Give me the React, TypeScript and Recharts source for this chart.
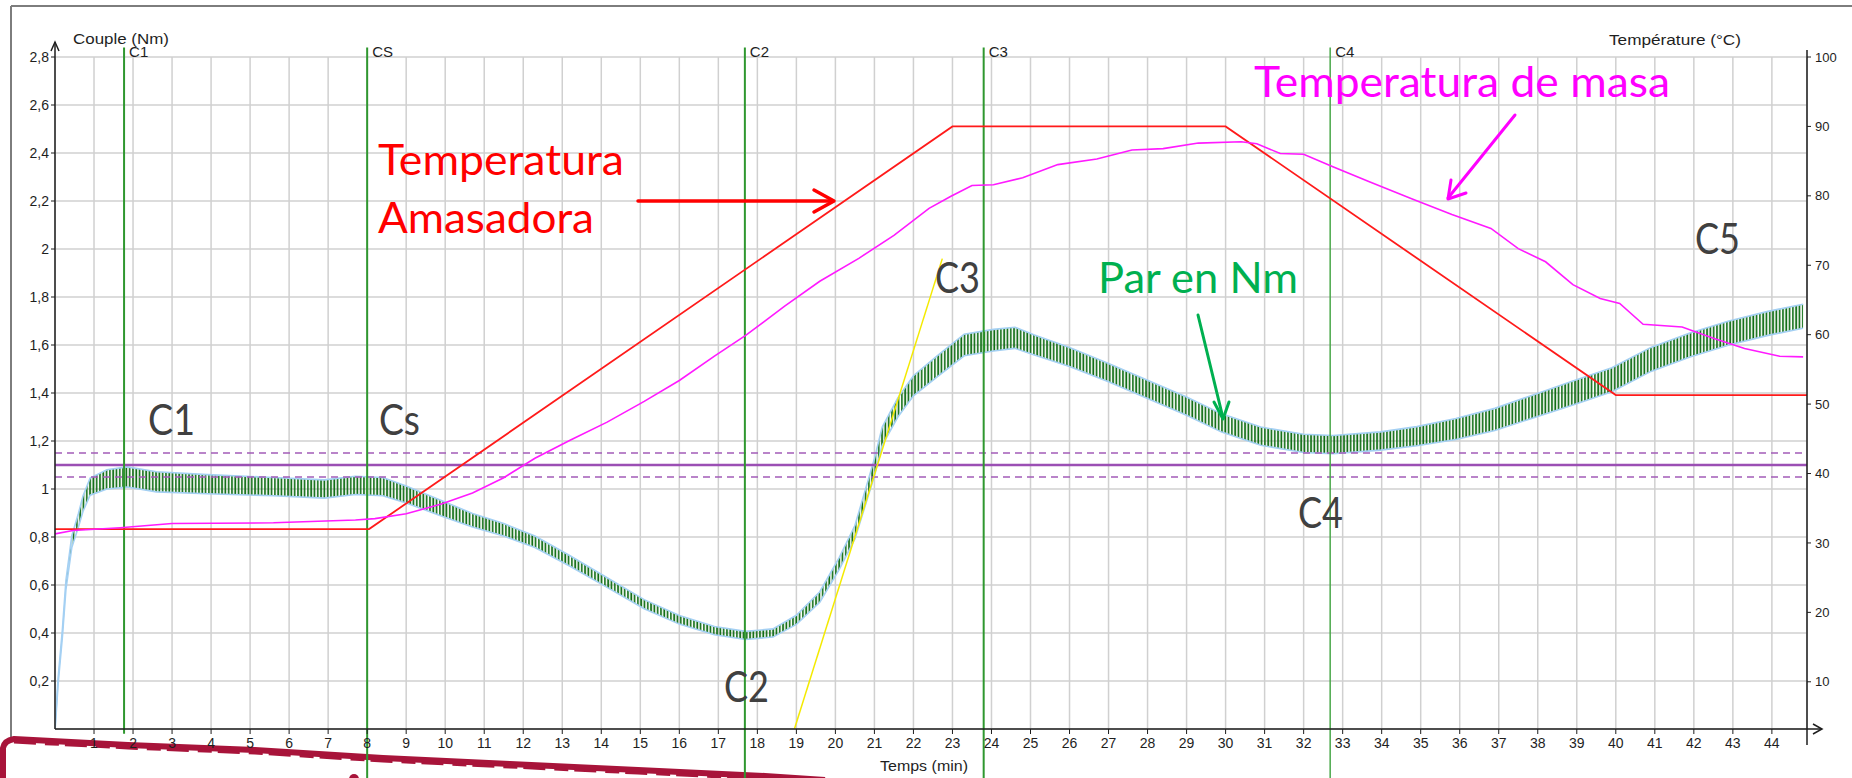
import React from "react";
import {
  ComposedChart,
  Line,
  Area,
  XAxis,
  YAxis,
  CartesianGrid,
  ReferenceLine,
} from "recharts";

// --- torque (Nm), left axis ---
const torqueTime = [
  0, 0.08, 0.19, 0.28, 0.43, 0.6, 0.72, 0.9, 1.33, 1.85, 2.6, 3.9, 5.6, 6.9, 7.7,
  8.4, 9.0, 9.9, 10.7, 11.5, 12.3, 13.2, 14.15, 15.1, 16.0, 16.9, 17.7, 18.4,
  19.0, 19.6, 20.1, 20.5, 20.75, 21.0, 21.2, 21.6, 22.0, 22.6, 23.3, 24.05, 24.6,
  25.1, 26.0, 27.0, 28.0, 29.0, 29.9, 30.9, 32.0, 32.75, 33.97, 34.9, 35.9, 36.9,
  37.9, 38.9, 39.9, 40.9, 41.9, 42.9, 43.9, 44.8,
];
const torqueMean = [
  0, 0.2, 0.4, 0.6, 0.78, 0.87, 0.94, 1.01, 1.04, 1.05, 1.03, 1.02, 1.01, 1.0, 1.015,
  1.01, 0.977, 0.92, 0.87, 0.83, 0.78, 0.7, 0.61, 0.52, 0.455, 0.41, 0.39, 0.4,
  0.455, 0.55, 0.69, 0.82, 0.955, 1.09, 1.22, 1.34, 1.43, 1.51, 1.6, 1.62, 1.63,
  1.6, 1.55, 1.485, 1.415, 1.345, 1.275, 1.22, 1.19, 1.185, 1.2, 1.22, 1.25, 1.29,
  1.345, 1.4, 1.455, 1.54, 1.6, 1.65, 1.69, 1.72,
];
// half height of the oscillation band around the mean
const torqueSpread = [
  0.01, 0.012, 0.015, 0.018, 0.024, 0.028, 0.032, 0.036, 0.04, 0.042, 0.042, 0.04,
  0.038, 0.038, 0.038, 0.038, 0.035, 0.032, 0.028, 0.026, 0.024, 0.022, 0.02, 0.019,
  0.018, 0.017, 0.017, 0.017, 0.019, 0.022, 0.025, 0.028, 0.032, 0.036, 0.038, 0.04,
  0.042, 0.044, 0.045, 0.045, 0.044, 0.042, 0.04, 0.038, 0.038, 0.038, 0.038, 0.038,
  0.038, 0.038, 0.038, 0.04, 0.044, 0.046, 0.048, 0.05, 0.05, 0.05, 0.05, 0.05, 0.05,
  0.05,
];

// --- kneader temperature (°C), right axis ---
const kneaderTime = [0, 8.05, 23.0, 30.0, 40.0, 44.9];
const kneaderTemp = [32, 32, 90, 90, 51.3, 51.3];

// --- dough temperature (°C), right axis ---
const doughTime = [
  0, 0.46, 1.67, 3.0, 5.6, 7.7, 8.2, 9.0, 9.9, 10.7, 11.5, 12.3, 13.2, 14.15, 15.1,
  16.0, 16.9, 17.7, 18.7, 19.6, 20.6, 21.5, 22.4, 22.95, 23.5, 24.05, 24.8, 25.7,
  26.7, 27.6, 28.4, 29.3, 30.4, 30.8, 31.4, 32.0, 32.75, 33.7, 34.8, 35.8, 36.8,
  37.5, 38.2, 38.9, 39.6, 40.1, 40.7, 41.7, 42.5, 43.3, 44.2, 44.8,
];
const doughTemp = [
  31.3, 31.8, 32.2, 32.8, 32.9, 33.3, 33.5, 34.2, 35.6, 37.2, 39.4, 42.2, 44.8, 47.4,
  50.4, 53.4, 56.9, 59.9, 64.1, 67.7, 71.0, 74.3, 78.2, 79.9, 81.5, 81.6, 82.6,
  84.5, 85.3, 86.6, 86.8, 87.6, 87.8, 87.5, 86.1, 86.0, 84.2, 82.0, 79.5, 77.3,
  75.3, 72.4, 70.5, 67.2, 65.2, 64.5, 61.5, 61.1, 59.5, 58.0, 56.9, 56.8,
];

// tangent drawn on the rise towards C3
const tangentTime = [18.95, 22.74];
const tangentTorque = [0, 1.96];

// markers
const markerNames = ["C1", "CS", "C2", "C3", "C4"];
const markerTime = [1.77, 8.0, 17.68, 23.8, 32.68];

// target band (Nm)
const targetLevel = 1.1;
const targetLimits = [1.05, 1.15];

const xTicks = [
  1, 2, 3, 4, 5, 6, 7, 8, 9, 10, 11, 12, 13, 14, 15, 16, 17, 18, 19, 20, 21, 22,
  23, 24, 25, 26, 27, 28, 29, 30, 31, 32, 33, 34, 35, 36, 37, 38, 39, 40, 41, 42,
  43, 44,
];
const leftTicks = [0.2, 0.4, 0.6, 0.8, 1, 1.2, 1.4, 1.6, 1.8, 2, 2.2, 2.4, 2.6, 2.8];
const rightTicks = [10, 20, 30, 40, 50, 60, 70, 80, 90, 100];

const torqueRows = torqueTime.map((t, i) => ({
  t,
  band: [torqueMean[i] - torqueSpread[i], torqueMean[i] + torqueSpread[i]],
}));
const kneaderRows = kneaderTime.map((t, i) => ({ t, temp: kneaderTemp[i] }));
const doughRows = doughTime.map((t, i) => ({ t, temp: doughTemp[i] }));
const tangentRows = tangentTime.map((t, i) => ({ t, torque: tangentTorque[i] }));

// layout
const W = 1852;
const H = 778;
const PLOT_LEFT = 55;
const PLOT_RIGHT = 1807;
const PLOT_TOP = 57;
const PLOT_BOTTOM = 729;
const T_MAX = 44.9;
const px = (t: number) => PLOT_LEFT + (t / T_MAX) * (PLOT_RIGHT - PLOT_LEFT);

const axisFont = "'Liberation Sans', Arial, sans-serif";
const noteFont = "Lato, 'Open Sans', sans-serif";
const axisColor = "#1e1e1e";
const paperRed = "#a8143a";

const notes = [
  { text: "C1", x: 148, y: 435, w: 47 },
  { text: "Cs", x: 379, y: 435, w: 41 },
  { text: "C2", x: 724, y: 702, w: 45 },
  { text: "C3", x: 935, y: 293, w: 45 },
  { text: "C4", x: 1298, y: 528, w: 45 },
  { text: "C5", x: 1695, y: 254, w: 45 },
];

export default function App() {
  return (
    <div style={{ position: "absolute", left: 0, top: 0, width: W, height: H, background: "#fff" }}>
      {/* paper frame and torn edge */}
      <svg width={W} height={H} style={{ position: "absolute", left: 0, top: 0 }}>
        <line x1={11} y1={6} x2={W} y2={6} stroke="#7d7d7d" strokeWidth={2} />
        <line x1={11} y1={6} x2={11} y2={740} stroke="#7d7d7d" strokeWidth={2} />
        <path
          d="M3,778 L3,748 C4,742 8,740 14,739 L128,745 L255,750 L383,758 L510,764 L638,770 L765,776 L825,780"
          stroke={paperRed}
          strokeWidth={6}
          fill="none"
          strokeLinejoin="round"
        />
        <path
          d="M14,742 L128,748 L255,753 L383,761 L510,767 L638,773 L765,779"
          stroke={paperRed}
          strokeWidth={3}
          strokeDasharray="22 9 14 6"
          fill="none"
        />
        <circle cx={354} cy={779} r={5} fill={paperRed} />
      </svg>

      <div style={{ position: "absolute", left: 0, top: 0 }}>
        <ComposedChart
          width={W}
          height={H}
          data={torqueRows}
          margin={{ top: PLOT_TOP, right: 0, bottom: 0, left: 0 }}
        >
          <defs>
            <pattern id="zigzag" width="3.3" height="8" patternUnits="userSpaceOnUse">
              <path d="M1,0 V8" stroke="#0f6d14" strokeWidth="1.7" />
            </pattern>
          </defs>
          <CartesianGrid stroke="#d0d0d0" strokeWidth={1.5} />
          <XAxis
            dataKey="t"
            type="number"
            domain={[0, T_MAX]}
            ticks={xTicks}
            interval={0}
            allowDataOverflow
            height={H - PLOT_BOTTOM}
            tickSize={5}
            tickMargin={4}
            axisLine={{ stroke: axisColor, strokeWidth: 1.5 }}
            tickLine={{ stroke: axisColor }}
            tick={{ fill: axisColor, fontSize: 14, fontFamily: axisFont }}
          />
          <YAxis
            type="number"
            domain={[0, 2.8]}
            ticks={leftTicks}
            interval={0}
            allowDataOverflow
            width={PLOT_LEFT}
            tickSize={4}
            tickMargin={2}
            tickFormatter={(v: number) => String(v).replace(".", ",")}
            axisLine={{ stroke: axisColor, strokeWidth: 1.5 }}
            tickLine={{ stroke: axisColor }}
            tick={{ fill: axisColor, fontSize: 14, fontFamily: axisFont }}
          />
          <YAxis
            yAxisId="R"
            orientation="right"
            type="number"
            domain={[3.2, 100]}
            ticks={rightTicks}
            interval={0}
            allowDataOverflow
            width={W - PLOT_RIGHT}
            tickSize={4}
            tickMargin={4}
            axisLine={{ stroke: axisColor, strokeWidth: 1.5 }}
            tickLine={{ stroke: axisColor }}
            tick={{ fill: axisColor, fontSize: 13, fontFamily: axisFont }}
          />

          <ReferenceLine y={targetLevel} stroke="#9b4fb4" strokeWidth={2.5} />
          {targetLimits.map((v) => (
            <ReferenceLine key={v} y={v} stroke="#a25cb8" strokeWidth={1.6} strokeDasharray="7 5" />
          ))}

          {markerTime.map((t, i) => (
            <ReferenceLine
              key={markerNames[i]}
              segment={[
                { x: t, y: i === 0 ? -0.02 : -0.21 },
                { x: t, y: 2.84 },
              ]}
              ifOverflow="visible"
              stroke={i === 4 ? "#4aa84a" : "#2f972f"}
              strokeWidth={i === 4 ? 1.5 : 2}
            />
          ))}

          <Line
            yAxisId="R"
            data={kneaderRows}
            dataKey="temp"
            type="linear"
            stroke="#ff1a1a"
            strokeWidth={1.8}
            dot={false}
            isAnimationActive={false}
          />
          <Line
            yAxisId="R"
            data={doughRows}
            dataKey="temp"
            type="linear"
            stroke="#ff1aff"
            strokeWidth={1.6}
            dot={false}
            isAnimationActive={false}
          />
          <Area
            dataKey="band"
            type="linear"
            fill="url(#zigzag)"
            fillOpacity={1}
            stroke="#a4d0f3"
            strokeWidth={1.6}
            dot={false}
            activeDot={false}
            isAnimationActive={false}
          />
          <Line
            data={tangentRows}
            dataKey="torque"
            type="linear"
            stroke="#f4ea00"
            strokeWidth={1.5}
            dot={false}
            isAnimationActive={false}
          />
        </ComposedChart>
      </div>

      {/* axis arrows, titles and annotations */}
      <svg width={W} height={H} style={{ position: "absolute", left: 0, top: 0, pointerEvents: "none" }}>
        <g stroke={axisColor} strokeWidth={1.5} fill="none">
          <line x1={PLOT_LEFT} y1={42} x2={PLOT_LEFT} y2={PLOT_TOP} />
          <polyline points={`${PLOT_LEFT - 4},51 ${PLOT_LEFT},42 ${PLOT_LEFT + 4},51`} />
          <line x1={PLOT_RIGHT} y1={PLOT_BOTTOM} x2={1822} y2={PLOT_BOTTOM} />
          <polyline points={`1813,724 1822,${PLOT_BOTTOM} 1813,734`} />
          <line x1={PLOT_RIGHT} y1={50} x2={PLOT_RIGHT} y2={PLOT_TOP} />
          <line x1={PLOT_RIGHT} y1={PLOT_BOTTOM} x2={PLOT_RIGHT} y2={745} />
        </g>
        <g fontFamily={axisFont} fill={axisColor} fontSize={15}>
          <text x={73} y={44} textLength={96} lengthAdjust="spacingAndGlyphs">Couple (Nm)</text>
          <text x={1609} y={45} textLength={132} lengthAdjust="spacingAndGlyphs">Température (°C)</text>
          <text x={880} y={771} textLength={88} lengthAdjust="spacingAndGlyphs">Temps (min)</text>
        </g>
        <g fontFamily={axisFont} fill={axisColor} fontSize={15}>
          {markerTime.map((t, i) => (
            <text key={markerNames[i]} x={px(t) + 5} y={57}>
              {markerNames[i]}
            </text>
          ))}
        </g>

        <g fontFamily={noteFont} fontSize={42}>
          <text x={378} y={175} fill="#ff0000" textLength={246} lengthAdjust="spacingAndGlyphs">
            Temperatura
          </text>
          <text x={378} y={233} fill="#ff0000" textLength={216} lengthAdjust="spacingAndGlyphs">
            Amasadora
          </text>
          <text x={1254} y={97} fill="#ff00ff" textLength={416} lengthAdjust="spacingAndGlyphs">
            Temperatura de masa
          </text>
          <text x={1098} y={293} fill="#00b050" textLength={200} lengthAdjust="spacingAndGlyphs">
            Par en Nm
          </text>
          {notes.map((n) => (
            <text key={n.text} x={n.x} y={n.y} fill="#404040" textLength={n.w} lengthAdjust="spacingAndGlyphs">
              {n.text}
            </text>
          ))}
        </g>

        <g fill="none" strokeLinecap="round" strokeLinejoin="round">
          <line x1={638} y1={201} x2={833} y2={201} stroke="#ff0000" strokeWidth={3.5} />
          <polyline points="814,190 834,201 814,212" stroke="#ff0000" strokeWidth={3.5} />
          <line x1={1515} y1={115} x2={1448} y2={198} stroke="#ff00ff" strokeWidth={3} />
          <polyline points="1451,180 1448,199 1466,193" stroke="#ff00ff" strokeWidth={3} />
          <line x1={1198} y1={315} x2={1223} y2={418} stroke="#00b050" strokeWidth={3} />
          <polyline points="1214,402 1223,419 1229,402" stroke="#00b050" strokeWidth={3} />
        </g>
      </svg>
    </div>
  );
}
